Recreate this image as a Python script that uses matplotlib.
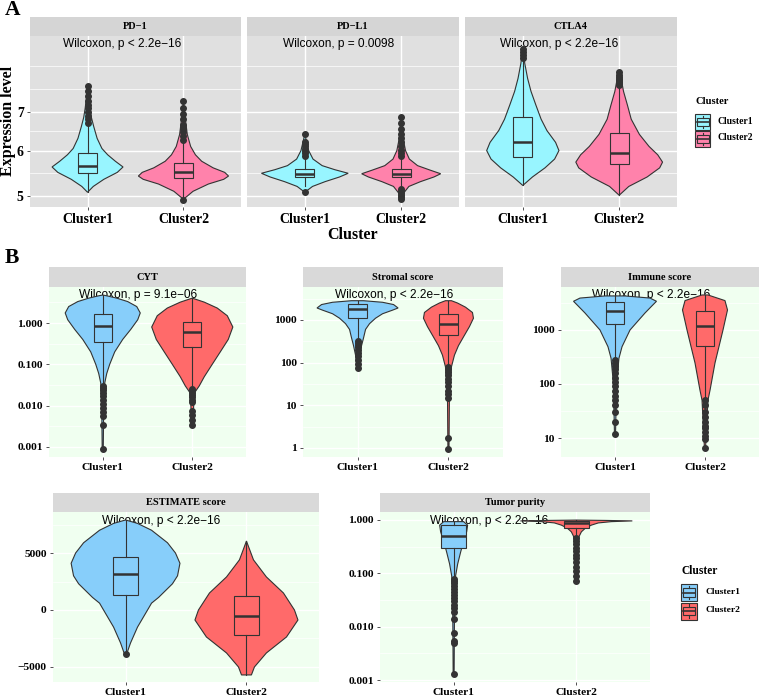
import matplotlib.pyplot as plt
import numpy as np
from matplotlib.patches import Rectangle
from matplotlib.ticker import NullFormatter

# ---------------- data ----------------
groups = ["Cluster1", "Cluster2"]

# panel A (log scale). violin profile: y levels and half widths (x units)
pd1_y1 = [5.08, 5.2, 5.35, 5.5, 5.62, 5.75, 5.9, 6.05, 6.3, 6.6, 6.85, 7.1, 7.4, 7.78]
pd1_w1 = [0.0, 0.06, 0.17, 0.31, 0.37, 0.29, 0.21, 0.15, 0.10, 0.065, 0.04, 0.025, 0.012, 0.0]
pd1_box1 = [5.08, 5.48, 5.64, 5.94, 6.65]
pd1_out1 = [6.7, 6.8, 6.9, 7.0, 7.1, 7.2, 7.3, 7.45, 7.6, 7.78]
pd1_y2 = [4.94, 5.1, 5.25, 5.35, 5.42, 5.5, 5.6, 5.75, 5.9, 6.1, 6.4, 6.8, 7.3]
pd1_w2 = [0.0, 0.10, 0.26, 0.42, 0.47, 0.43, 0.31, 0.19, 0.125, 0.075, 0.04, 0.02, 0.0]
pd1_box2 = [4.97, 5.38, 5.50, 5.70, 6.2]
pd1_out2 = [4.93, 6.25, 6.35, 6.45, 6.55, 6.65, 6.8, 6.95, 7.1, 7.3]

pdl1_y1 = [5.08, 5.2, 5.3, 5.4, 5.48, 5.56, 5.65, 5.8, 6.0, 6.2, 6.4]
pdl1_w1 = [0.0, 0.08, 0.21, 0.36, 0.45, 0.31, 0.18, 0.085, 0.04, 0.02, 0.0]
pdl1_box1 = [5.2, 5.40, 5.47, 5.58, 5.85]
pdl1_out1 = [5.08, 5.88, 5.95, 6.0, 6.05, 6.1, 6.15, 6.2, 6.4]
pdl1_y2 = [4.94, 5.05, 5.2, 5.3, 5.4, 5.47, 5.55, 5.65, 5.8, 6.0, 6.3, 6.6, 6.87]
pdl1_w2 = [0.0, 0.02, 0.08, 0.2, 0.34, 0.41, 0.3, 0.17, 0.085, 0.045, 0.02, 0.01, 0.0]
pdl1_box2 = [5.17, 5.39, 5.47, 5.57, 5.84]
pdl1_out2 = [4.94, 4.98, 5.02, 5.06, 5.1, 5.14, 5.88, 5.95, 6.02, 6.1, 6.2, 6.3, 6.4, 6.55, 6.7, 6.87]

ctla4_y1 = [5.22, 5.4, 5.6, 5.8, 6.0, 6.2, 6.5, 6.8, 7.2, 7.6, 8.0, 8.5, 9.09]
ctla4_w1 = [0.0, 0.10, 0.23, 0.33, 0.375, 0.34, 0.25, 0.19, 0.135, 0.085, 0.05, 0.02, 0.0]
ctla4_box1 = [5.22, 5.85, 6.2, 6.85, 8.6]
ctla4_out1 = [8.7, 8.8, 8.9, 9.0]
ctla4_y2 = [5.02, 5.2, 5.4, 5.6, 5.73, 5.9, 6.1, 6.4, 6.8, 7.2, 7.6, 8.0, 8.2]
ctla4_w2 = [0.0, 0.10, 0.29, 0.42, 0.45, 0.40, 0.31, 0.21, 0.125, 0.085, 0.045, 0.02, 0.0]
ctla4_box2 = [5.02, 5.69, 5.94, 6.43, 7.75]
ctla4_out2 = [7.8, 7.85, 7.9, 7.95, 8.0, 8.05, 8.1, 8.2]

# panel B
cyt_y1 = [0.0009, 0.01, 0.035, 0.06, 0.1, 0.2, 0.4, 0.7, 1.2, 1.75, 2.5, 3.3, 4.0, 4.5, 4.76]
cyt_w1 = [0.006, 0.011, 0.022, 0.045, 0.078, 0.134, 0.223, 0.313, 0.391, 0.419, 0.38, 0.279, 0.156, 0.056, 0.0]
cyt_box1 = [0.035, 0.35, 0.85, 1.65, 4.76]
cyt_out1 = [0.03, 0.027, 0.024, 0.02, 0.017, 0.014, 0.011, 0.009, 0.007, 0.0055, 0.0034, 0.0009]
cyt_y2 = [0.0034, 0.02, 0.03, 0.05, 0.1, 0.2, 0.4, 0.8, 1.5, 2.3, 3.2, 4.0]
cyt_w2 = [0.006, 0.022, 0.078, 0.134, 0.223, 0.313, 0.402, 0.453, 0.391, 0.279, 0.134, 0.0]
cyt_box2 = [0.028, 0.26, 0.6, 1.06, 4.0]
cyt_out2 = [0.025, 0.022, 0.02, 0.018, 0.016, 0.014, 0.012, 0.0075, 0.006, 0.0045, 0.0034]

str_y1 = [76, 150, 250, 380, 600, 820, 1100, 1400, 1700, 1910, 2300, 2600, 2830]
str_w1 = [0.006, 0.022, 0.044, 0.066, 0.088, 0.132, 0.198, 0.275, 0.385, 0.446, 0.396, 0.275, 0.066]
str_box1 = [345, 1100, 1800, 2400, 2830]
str_out1 = [320, 290, 260, 230, 200, 170, 140, 115, 95, 76]
str_y2 = [0.95, 20, 80, 150, 250, 400, 700, 1100, 1500, 2000, 2500, 2830]
str_w2 = [0.006, 0.011, 0.033, 0.066, 0.11, 0.165, 0.231, 0.275, 0.264, 0.187, 0.099, 0.033]
str_box2 = [85, 450, 810, 1400, 2830]
str_out2 = [78, 70, 60, 50, 42, 35, 28, 22, 18, 15, 1.7, 0.95]

imm_y1 = [12, 100, 300, 490, 1000, 2060, 2800, 3400, 3900, 4270]
imm_w1 = [0.006, 0.017, 0.044, 0.078, 0.167, 0.333, 0.411, 0.461, 0.389, 0.111]
imm_box1 = [300, 1290, 2250, 3300, 4270]
imm_out1 = [280, 250, 220, 190, 160, 130, 110, 90, 75, 60, 50, 40, 30, 20, 12]
imm_y2 = [6.5, 50, 77, 245, 1000, 2350, 3500, 4450]
imm_w2 = [0.006, 0.033, 0.056, 0.111, 0.2, 0.25, 0.222, 0.033]
imm_box2 = [57, 500, 1190, 2200, 4450]
imm_out2 = [50, 40, 30, 25, 20, 17, 15, 13, 11, 9.5, 6.5]

est_y1 = [-3900, -2900, -1500, 0, 600, 1100, 2300, 3000, 4100, 5000, 5900, 7000, 7600, 7900]
est_w1 = [0.008, 0.041, 0.099, 0.182, 0.215, 0.273, 0.388, 0.43, 0.45, 0.413, 0.347, 0.215, 0.099, 0.0]
est_box1 = [-3770, 1300, 3150, 4650, 7900]
est_out1 = [-3900]
est_y2 = [-5700, -5000, -3770, -2370, -880, 0, 1490, 2900, 4400, 6050]
est_w2 = [0.041, 0.066, 0.165, 0.331, 0.426, 0.397, 0.306, 0.165, 0.058, 0.0]
est_box2 = [-5700, -2200, -530, 1230, 6050]
est_out2 = []

tp_y1 = [0.0013, 0.05, 0.09, 0.15, 0.25, 0.4, 0.6, 0.8, 0.93]
tp_w1 = [0.004, 0.008, 0.016, 0.033, 0.057, 0.081, 0.106, 0.114, 0.081]
tp_box1 = [0.084, 0.30, 0.50, 0.80, 0.93]
tp_out1 = [0.08, 0.072, 0.065, 0.058, 0.05, 0.045, 0.04, 0.035, 0.03, 0.026, 0.022,
           0.019, 0.014, 0.0075, 0.0055, 0.005, 0.0013]
tp_y2 = [0.07, 0.3, 0.5, 0.6, 0.7, 0.8, 0.88, 0.93, 0.96, 0.98, 0.995]
tp_w2 = [0.004, 0.008, 0.024, 0.041, 0.073, 0.122, 0.179, 0.285, 0.456, 0.245, 0.0]
tp_box2 = [0.48, 0.72, 0.86, 0.95, 0.995]
tp_out2 = [0.45, 0.4, 0.35, 0.3, 0.26, 0.22, 0.19, 0.16, 0.13, 0.11, 0.09, 0.071]

# ---------------- styling ----------------
W, H = 760, 696
colA = ["#98F5FF", "#FF82AB"]
colB = ["#87CEFA", "#FF6A6A"]
dark = "#333333"
SERIF = "Liberation Serif"
SANS = "Liberation Sans"

plt.rcParams['font.family'] = SERIF
plt.rcParams['font.weight'] = 'bold'

fig = plt.figure(figsize=(W / 100, H / 100), dpi=100)


def px_rect(x0, y0, x1, y1):
    return [x0 / W, 1 - y1 / H, (x1 - x0) / W, (y1 - y0) / H]


def draw_violin(ax, pos, ys, ws, box, out, color):
    ys = np.asarray(ys, float)
    ws = np.asarray(ws, float)
    xs = np.concatenate([pos - ws, (pos + ws)[::-1]])
    yy = np.concatenate([ys, ys[::-1]])
    ax.fill(xs, yy, facecolor=color, edgecolor=dark, lw=0.8, zorder=3)
    st = dict(whislo=box[0], q1=box[1], med=box[2], q3=box[3], whishi=box[4], fliers=out)
    ax.bxp([st], positions=[pos], widths=0.2, patch_artist=True, showcaps=False,
           boxprops=dict(facecolor=color, edgecolor=dark, lw=0.8),
           whiskerprops=dict(color=dark, lw=0.8),
           medianprops=dict(color=dark, lw=1.8),
           flierprops=dict(marker='o', markerfacecolor=dark, markeredgecolor=dark,
                           markersize=4),
           zorder=4, manage_ticks=False)


def panel(rect, strip, title, vio, colors, ylog, ylim, ticks, ticklabels, minor,
          ptext, tx, ty, bg, stripc, fs_tick, fs_strip):
    ax = fig.add_axes(px_rect(*rect))
    ax.set_facecolor(bg)
    for s in ax.spines.values():
        s.set_visible(False)
    if ylog:
        ax.set_yscale('log')
    for i, (ys, ws, box, out) in enumerate(vio):
        draw_violin(ax, i + 1, ys, ws, box, out, colors[i])
    ax.set_xlim(0.4, 2.6)
    ax.set_yticks(ticks)
    ax.set_yticklabels(ticklabels)
    ax.set_yticks(minor, minor=True)
    ax.yaxis.set_minor_formatter(NullFormatter())
    ax.set_ylim(*ylim)
    ax.set_xticks([1, 2])
    ax.set_xticklabels(groups)
    ax.tick_params(which='major', length=2.5, width=0.6, color=dark, pad=2,
                   labelsize=fs_tick, labelcolor='black')
    ax.tick_params(which='minor', length=0)
    ax.grid(True, which='major', color='white', lw=1.0, zorder=0)
    ax.grid(True, which='minor', axis='y', color='white', lw=0.5, zorder=0)
    ax.set_axisbelow(True)
    ax.text(tx, ty, ptext, transform=ax.transAxes, family=SANS, weight='normal',
            fontsize=8.6, ha='left', va='center', zorder=1)
    sa = fig.add_axes(px_rect(*strip))
    sa.set_facecolor(stripc)
    sa.set_xticks([])
    sa.set_yticks([])
    for s in sa.spines.values():
        s.set_visible(False)
    sa.text(0.5, 0.5, title, ha='center', va='center', fontsize=fs_strip,
            transform=sa.transAxes)
    return ax


# ---------------- panel A ----------------
bgA, stripA = "#E0E0E0", "#D5D5D5"
ticksA = [5, 6, 7]
minorA = [5.477, 6.481, 7.667, 8.4]
limA = (4.79, 9.48)
panel((30, 36, 241, 207), (30, 17, 241, 36), "PD\u22121",
      [(pd1_y1, pd1_w1, pd1_box1, pd1_out1), (pd1_y2, pd1_w2, pd1_box2, pd1_out2)],
      colA, True, limA, ticksA, ["5", "6", "7"], minorA,
      "Wilcoxon, p < 2.2e\u221216", 0.157, 0.953, bgA, stripA, 10, 7.5)
axp = panel((247, 36, 459, 207), (247, 17, 459, 36), "PD\u2212L1",
            [(pdl1_y1, pdl1_w1, pdl1_box1, pdl1_out1), (pdl1_y2, pdl1_w2, pdl1_box2, pdl1_out2)],
            colA, True, limA, ticksA, ["", "", ""], minorA,
            "Wilcoxon, p = 0.0098", 0.17, 0.953, bgA, stripA, 10, 7.5)
axp.tick_params(axis='y', length=0)
axc = panel((465, 36, 677, 207), (465, 17, 677, 36), "CTLA4",
            [(ctla4_y1, ctla4_w1, ctla4_box1, ctla4_out1), (ctla4_y2, ctla4_w2, ctla4_box2, ctla4_out2)],
            colA, True, limA, ticksA, ["", "", ""], minorA,
            "Wilcoxon, p < 2.2e\u221216", 0.165, 0.953, bgA, stripA, 10, 7.5)
axc.tick_params(axis='y', length=0)

fig.text(8 / W, 1 - 121 / H, "Expression level", rotation=90, ha='center', va='center',
         fontsize=11.5)
fig.text(353 / W, 1 - 235 / H, "Cluster", ha='center', va='center', fontsize=11.5)
fig.text(5 / W, 1 - 10 / H, "A", ha='left', va='center', fontsize=15.5)
fig.text(5 / W, 1 - 258 / H, "B", ha='left', va='center', fontsize=15.5)

# ---------------- panel B ----------------
bgB, stripB = "#F0FFF0", "#D9D9D9"
dec_minor = [10 ** (k + 0.5) for k in range(-4, 4)]
panel((49, 287, 246, 457), (49, 267, 246, 287), "CYT",
      [(cyt_y1, cyt_w1, cyt_box1, cyt_out1), (cyt_y2, cyt_w2, cyt_box2, cyt_out2)],
      colB, True, (0.00057, 7.44), [0.001, 0.01, 0.1, 1],
      ["0.001", "0.010", "0.100", "1.000"], dec_minor,
      "Wilcoxon, p = 9.1e\u221206", 0.152, 0.953, bgB, stripB, 8.2, 7.5)
panel((303, 287, 503, 457), (303, 267, 503, 287), "Stromal score",
      [(str_y1, str_w1, str_box1, str_out1), (str_y2, str_w2, str_box2, str_out2)],
      colB, True, (0.615, 5930), [1, 10, 100, 1000],
      ["1", "10", "100", "1000"], dec_minor,
      "Wilcoxon, p < 2.2e\u221216", 0.16, 0.953, bgB, stripB, 8.2, 7.5)
panel((561, 287, 759, 457), (561, 267, 759, 287), "Immune score",
      [(imm_y1, imm_w1, imm_box1, imm_out1), (imm_y2, imm_w2, imm_box2, imm_out2)],
      colB, True, (4.45, 6250), [10, 100, 1000],
      ["10", "100", "1000"], dec_minor,
      "Wilcoxon, p < 2.2e\u221216", 0.157, 0.953, bgB, stripB, 8.2, 7.5)
panel((53, 512, 319, 682), (53, 493, 319, 512), "ESTIMATE score",
      [(est_y1, est_w1, est_box1, est_out1), (est_y2, est_w2, est_box2, est_out2)],
      colB, False, (-6320, 8600), [-5000, 0, 5000],
      ["\u22125000", "0", "5000"], [-2500, 2500, 7500],
      "Wilcoxon, p < 2.2e\u221216", 0.184, 0.947, bgB, stripB, 8.2, 7.5)
panel((380, 512, 650, 682), (380, 493, 650, 512), "Tumor purity",
      [(tp_y1, tp_w1, tp_box1, tp_out1), (tp_y2, tp_w2, tp_box2, tp_out2)],
      colB, True, (0.00092, 1.41), [0.001, 0.01, 0.1, 1],
      ["0.001", "0.010", "0.100", "1.000"], dec_minor,
      "Wilcoxon, p < 2.2e\u221216", 0.185, 0.947, bgB, stripB, 8.2, 7.5)

# ---------------- legends ----------------
lg = fig.add_axes([0, 0, 1, 1], zorder=10)
lg.set_xlim(0, W)
lg.set_ylim(H, 0)
lg.axis('off')


def key(x0, y0, x1, y1, color):
    w, h = x1 - x0, y1 - y0
    lg.add_patch(Rectangle((x0, y0), w, h, facecolor=color, edgecolor=dark, lw=0.8))
    lg.add_patch(Rectangle((x0 + 0.1 * w, y0 + 0.25 * h), 0.8 * w, 0.5 * h,
                           facecolor=color, edgecolor=dark, lw=0.8))
    lg.plot([x0 + 0.1 * w, x1 - 0.1 * w], [y0 + 0.5 * h] * 2, color=dark, lw=1.2)
    xm = x0 + 0.5 * w
    lg.plot([xm, xm], [y0 + 0.1 * h, y0 + 0.25 * h], color=dark, lw=0.8)
    lg.plot([xm, xm], [y0 + 0.75 * h, y0 + 0.9 * h], color=dark, lw=0.8)


lg.text(695, 101, "Cluster", ha='left', va='center', fontsize=7.6)
for i, c in enumerate(colA):
    y0 = 114 + i * 17
    key(695, y0, 710, y0 + 16, c)
    lg.text(718, y0 + 7, groups[i], ha='left', va='center', fontsize=6.9)

lg.text(681, 571, "Cluster", ha='left', va='center', fontsize=8.3)
for i, c in enumerate(colB):
    y0 = 584 + i * 18.5
    key(681, y0, 697, y0 + 17, c)
    lg.text(705, y0 + 8, groups[i], ha='left', va='center', fontsize=6.8)

fig.savefig("out.png", dpi=100)
